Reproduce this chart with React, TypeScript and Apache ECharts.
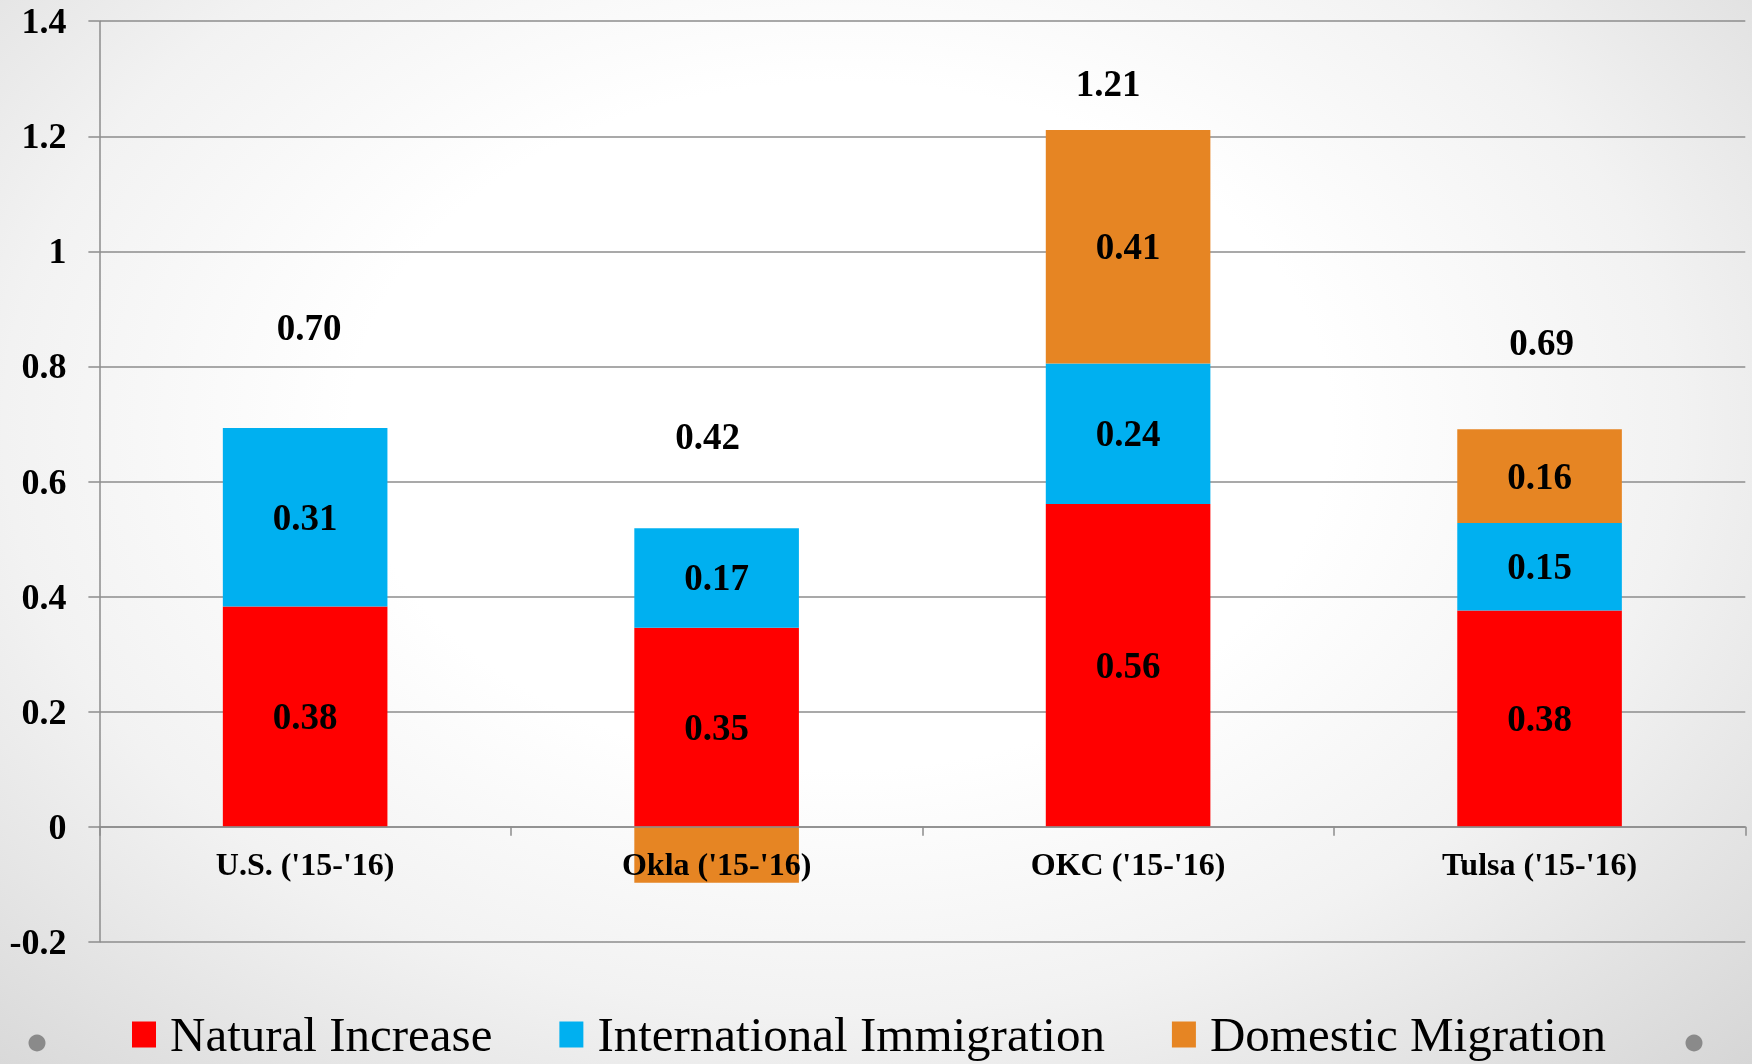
import React, { useEffect, useRef } from "react";
import * as echarts from "echarts";

const categories = ["U.S. ('15-'16)", "Okla ('15-'16)", "OKC ('15-'16)", "Tulsa ('15-'16)"];
const seriesNames = ["Natural Increase", "International Immigration", "Domestic Migration"];
const naturalIncrease = [0.383, 0.346, 0.561, 0.376];
const internationalImmigration = [0.31, 0.173, 0.244, 0.152];
const domesticMigration = [0, -0.097, 0.406, 0.163];
const totals = [0.7, 0.42, 1.21, 0.69];
const totalLabelAt = [0.868, 0.678, 1.291, 0.841];
const yMin = -0.2;
const yMax = 1.4;
const yStep = 0.2;

// layout only (horizontal nudges of the total labels, in px)
const totalLabelNudge = [4, -9, -20, 2];

const COLORS = ["#FF0000", "#00B0F0", "#E68523"];
const FONT = "'Liberation Serif', 'Times New Roman', serif";
const GRID_COLOR = "#8c8c8c";

export default function App() {
  const ref = useRef<HTMLDivElement>(null);

  useEffect(() => {
    if (!ref.current) return;
    const chart = echarts.init(ref.current, null, { renderer: "svg" });

    const barLabel = {
      show: true,
      position: "inside",
      color: "#000",
      fontFamily: FONT,
      fontWeight: "bold",
      fontSize: 37,
      textBorderWidth: 0,
      formatter: (p: any) => (p.value > 0.05 ? Number(p.value).toFixed(2) : ""),
    };

    const valueSets = [naturalIncrease, internationalImmigration, domesticMigration];

    const barSeries = seriesNames.map((name, i) => ({
      name,
      type: "bar",
      stack: "total",
      barCategoryGap: "60%",
      itemStyle: { color: COLORS[i] },
      label: barLabel,
      data: valueSets[i],
      z: 2,
    }));

    const option: any = {
      animation: false,
      backgroundColor: "transparent",
      grid: {
        left: 99.4,
        right: 6.7,
        top: 21.2,
        bottom: 122.1,
        containLabel: false,
        outerBoundsMode: "none",
      },
      legend: {
        data: seriesNames,
        left: 132,
        top: 1010,
        padding: 0,
        itemWidth: 24,
        itemHeight: 26,
        itemGap: 67,
        icon: "rect",
        textStyle: {
          fontFamily: FONT,
          fontSize: 49,
          lineHeight: 49,
          color: "#000",
          padding: [0, 0, 0, 9],
        },
        selectedMode: false,
      },
      xAxis: {
        type: "category",
        data: categories,
        z: 6,
        axisLine: { show: true, onZero: true, lineStyle: { color: GRID_COLOR, width: 1.5 } },
        axisTick: { show: true, length: 9, alignWithLabel: false, lineStyle: { color: GRID_COLOR, width: 1.5 } },
        axisLabel: {
          color: "#000",
          fontFamily: FONT,
          fontWeight: "bold",
          fontSize: 32,
          margin: -94,
          interval: 0,
        },
        splitLine: { show: false },
      },
      yAxis: {
        type: "value",
        min: yMin,
        max: yMax,
        interval: yStep,
        axisLine: { show: true, lineStyle: { color: GRID_COLOR, width: 1.5 } },
        axisTick: { show: true, length: 11, lineStyle: { color: GRID_COLOR, width: 1.5 } },
        axisLabel: {
          color: "#000",
          fontFamily: FONT,
          fontWeight: "bold",
          fontSize: 36,
          margin: 33,
          formatter: (v: number) => String(Math.round(v * 10) / 10),
        },
        splitLine: { show: true, lineStyle: { color: GRID_COLOR, width: 1.5 } },
      },
      graphic: [
        { type: "circle", shape: { cx: 37, cy: 1043, r: 8.5 }, style: { fill: "#8a8a8a" }, silent: true },
        { type: "circle", shape: { cx: 1694, cy: 1043, r: 8.5 }, style: { fill: "#8a8a8a" }, silent: true },
      ],
      series: [
        ...barSeries,
        {
          name: "Total",
          type: "scatter",
          symbol: "circle",
          symbolSize: 1,
          itemStyle: { color: "#000", opacity: 0 },
          silent: true,
          z: 5,
          data: totalLabelAt.map((v, i) => ({
            value: [i, v],
            label: { offset: [totalLabelNudge[i], 0] },
          })),
          label: {
            show: true,
            position: "inside",
            color: "#000",
            opacity: 1,
            textBorderWidth: 0,
            fontFamily: FONT,
            fontWeight: "bold",
            fontSize: 37,
            formatter: (p: any) => totals[p.dataIndex].toFixed(2),
          },
        },
      ],
    };

    chart.setOption(option);
    return () => {
      chart.dispose();
    };
  }, []);

  return (
    <div
      style={{
        position: "fixed",
        left: 0,
        top: 0,
        width: 1752,
        height: 1064,
        background:
          "radial-gradient(ellipse farthest-corner at 48% 40%, #ffffff 38%, #f2f2f2 65%, #d6d6d6 100%)",
      }}
    >
      <div ref={ref} style={{ width: 1752, height: 1064 }} />
    </div>
  );
}
